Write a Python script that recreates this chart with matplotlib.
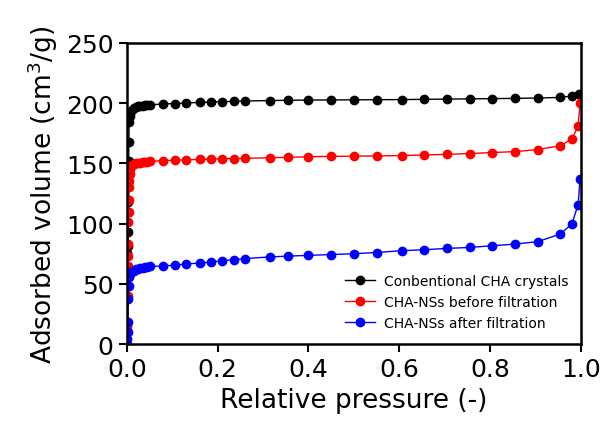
import matplotlib.pyplot as plt

# Relative pressure (p/p0) and adsorbed volume (cm3/g)
conv_x = [0.001, 0.0015, 0.002, 0.0025, 0.003, 0.0035, 0.004, 0.0045, 0.005,
          0.006, 0.008, 0.011, 0.015, 0.02, 0.025, 0.03, 0.035, 0.04, 0.045,
          0.05, 0.08, 0.105, 0.13, 0.16, 0.185, 0.21, 0.235, 0.26, 0.315,
          0.355, 0.40, 0.45, 0.50, 0.55, 0.605, 0.655, 0.705, 0.755, 0.805,
          0.855, 0.905, 0.955, 0.98, 0.995]
conv_y = [76, 81, 93, 110, 118, 140, 152, 168, 184, 189, 192.5, 194.5,
          196, 196.8, 197.3, 197.7, 198.0, 198.3, 198.5, 198.7, 199.3, 199.7,
          200.2, 200.6, 201.0, 201.3, 201.5, 201.8, 202.2, 202.4, 202.6,
          202.7, 202.8, 202.9, 203.0, 203.2, 203.4, 203.6, 203.8, 204.0,
          204.3, 204.8, 206.0, 208.0]

before_x = [0.001, 0.0015, 0.002, 0.0025, 0.003, 0.0035, 0.004, 0.0045,
            0.005, 0.0055, 0.006, 0.007, 0.009, 0.012, 0.016, 0.02, 0.025,
            0.03, 0.035, 0.04, 0.045, 0.05, 0.08, 0.105, 0.13, 0.16, 0.185,
            0.21, 0.235, 0.26, 0.315, 0.355, 0.40, 0.45, 0.50, 0.55, 0.605,
            0.655, 0.705, 0.755, 0.805, 0.855, 0.905, 0.955, 0.98, 0.994,
            0.998]
before_y = [15, 40, 65, 73, 83, 101, 110, 120, 130, 135, 141, 145, 147.5,
            148.8, 149.5, 150.0, 150.4, 150.7, 151.0, 151.3, 151.5, 151.7,
            152.3, 152.6, 153.0, 153.3, 153.5, 153.8, 154.0, 154.2, 154.7,
            155.0, 155.5, 155.8, 156.0, 156.2, 156.5, 157.0, 157.5, 158.2,
            159.0, 159.8, 161.5, 164.7, 170.3, 181.0, 200.0]

after_x = [0.0005, 0.001, 0.0015, 0.002, 0.003, 0.004, 0.005, 0.007, 0.01,
           0.015, 0.02, 0.025, 0.03, 0.035, 0.04, 0.045, 0.05, 0.08, 0.105,
           0.13, 0.16, 0.185, 0.21, 0.235, 0.26, 0.315, 0.355, 0.40, 0.45,
           0.50, 0.55, 0.605, 0.655, 0.705, 0.755, 0.805, 0.855, 0.905,
           0.955, 0.98, 0.994, 0.998]
after_y = [0, 4, 10, 18, 37, 48, 56, 58.5, 60, 61, 62, 62.5, 63, 63.4,
           63.8, 64.1, 64.4, 64.8, 65.5, 66.4, 67.3, 68.0, 69.2, 70.0, 71.0,
           72.3, 73.0, 73.6, 74.3, 75.0, 76.0, 77.5, 78.3, 79.4, 80.2, 81.6,
           83.0, 85.0, 91.4, 99.7, 115.7, 137.0]

series = [
    (conv_x, conv_y, "black", "Conbentional CHA crystals"),
    (before_x, before_y, "red", "CHA-NSs before filtration"),
    (after_x, after_y, "blue", "CHA-NSs after filtration"),
]

fig = plt.figure(figsize=(6.07, 4.27), dpi=100)
ax = fig.add_axes([0.209, 0.192, 0.748, 0.705])

for xs, ys, color, label in series:
    ax.plot(xs, ys, "-o", color=color, markersize=6, linewidth=1, label=label)

ax.set_xlim(0, 1)
ax.set_ylim(0, 250)
ax.set_xticks([0.0, 0.2, 0.4, 0.6, 0.8, 1.0])
ax.set_yticks([0, 50, 100, 150, 200, 250])
ax.set_xlabel("Relative pressure (-)", fontsize=19, labelpad=4)
ax.set_ylabel("Adsorbed volume (cm$^3$/g)", fontsize=19, labelpad=4)
ax.tick_params(labelsize=18, width=1.5, length=6)
for spine in ax.spines.values():
    spine.set_linewidth(1.8)

ax.legend(loc="lower right", bbox_to_anchor=(0.99, 0.02), fontsize=10,
          frameon=False, labelspacing=0.48, handlelength=2.2,
          handletextpad=0.6, borderaxespad=0.2)

fig.savefig("out.png", dpi=100)
